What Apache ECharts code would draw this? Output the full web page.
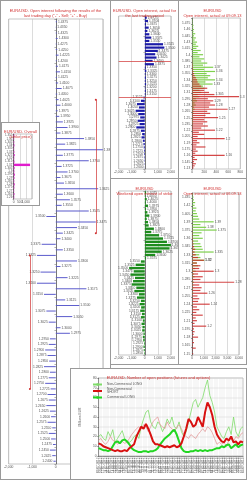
<!DOCTYPE html>
<html>
<head>
<meta charset="utf-8">
<script src="https://cdn.jsdelivr.net/npm/echarts@6/dist/echarts.min.js"></script>
<style>
html, body { margin: 0; padding: 0; background: #fff; }
.p { position: absolute; box-sizing: border-box; border: 1px solid #9a9a9a; background: #fff; }
</style>
</head>
<body>
<div class="p" id="pA" style="left:0;top:0;width:111px;height:480px"></div>
<div class="p" id="pB" style="left:110px;top:0;width:69px;height:179px"></div>
<div class="p" id="pC" style="left:178px;top:0;width:69px;height:179px"></div>
<div class="p" id="pD" style="left:110px;top:178px;width:69px;height:187px"></div>
<div class="p" id="pE" style="left:178px;top:178px;width:69px;height:187px"></div>
<div class="p" id="pG" style="left:1px;top:122px;width:39px;height:84px"></div>
<div class="p" id="pF" style="left:70px;top:368px;width:177px;height:112px"></div>
<script>
// ---- data ----
// left panel: open interest after last trading day (strike, bottom -> top)
const A_STRIKES = ['1.2400','1.2425','1.2450','1.2475','1.2500','1.2525','1.2550','1.2575','1.2600','1.2625',
  '1.2650','1.2675','1.2700','1.2725','1.2750','1.2775','1.2800','1.2825','1.2850','1.2875',
  '1.2900','1.2925','1.2950','1.2975','1.3000','1.3025','1.3050','1.3075','1.3100','1.3125',
  '1.3150','1.3175','1.3200','1.3225','1.3250','1.3275','1.3300','1.3325','1.3350','1.3375',
  '1.3400','1.3425','1.3450','1.3475','1.3500','1.3525','1.3550','1.3575','1.3600','1.3625',
  '1.3650','1.3675','1.3700','1.3725','1.3750','1.3775','1.3800','1.3825','1.3850','1.3875',
  '1.3900','1.3925','1.3950','1.3975','1.4000','1.4025','1.4050','1.4075','1.4100','1.4125',
  '1.4150','1.4175','1.4200','1.4225','1.4250','1.4275','1.4300','1.4325','1.4350','1.4375'];
const A_VALUES = [-100, -150, -250, -120, -200, -300, -150, -350, -200, -250,
  -400, -300, -350, -220, -450, -300, -250, -500, -280, -350, -450, -300,
  -250, 600, 200, -300, 700, -400, 1000, 400, -500, 1300, -800, 500, -650, 200, 900, -800, 300, -600, 200,
  300, 900, 1700, -400, 1400, 250, 600, 300, 1800, 350, 200, 500, 250, 1400, 300, 2000, 400, 1200, 200, 500, 300,
  150, 80, 200, 120, 60, 250, 100, 50, 180, 90, 40, 120, 60, 30, 80, 40, 20, 50];

// middle top: open interest for the last trading period
const B_STRIKES = ['1.2600','1.2625','1.2650','1.2675','1.2700','1.2725','1.2750','1.2775','1.2800','1.2825',
  '1.2850','1.2875','1.2900','1.2925','1.2950','1.2975','1.3000','1.3025','1.3050','1.3075',
  '1.3100','1.3125','1.3150','1.3175','1.3200','1.3225','1.3250','1.3275','1.3300','1.3325',
  '1.3350','1.3375','1.3400','1.3425','1.3450','1.3475','1.3500','1.3525','1.3550','1.3575',
  '1.3600','1.3625','1.3650','1.3675','1.3700','1.3725'];
const B_VALUES = [-10, -20, -30, -40, -50, -60, -80, -100, -150, -250, -200, -300, -650, -400, -550, -350,
  -500, -700, -450, -600, -300, -100,
  60, 80, 50, 100, 70, 90, 60, 120, 80,
  700, 600, 900, 800, 1000, 1500, 1400, 350, 500, 350, 200, 300, 100, 250, 150];

// right top: open interest actual at 09.09.13
const C_STRIKES = ['1.13','1.135','1.14','1.145','1.15','1.155','1.16','1.165','1.17','1.175',
  '1.18','1.185','1.19','1.195','1.2','1.205','1.21','1.215','1.22','1.225',
  '1.23','1.235','1.24','1.245','1.25','1.255','1.26','1.265','1.27','1.275',
  '1.28','1.285','1.29','1.295','1.3','1.305','1.31','1.315','1.32','1.325',
  '1.33','1.335','1.34','1.345','1.35','1.355','1.36','1.365','1.37','1.375',
  '1.38','1.385','1.39','1.395','1.4','1.405','1.41','1.415','1.42','1.425',
  '1.43','1.435','1.44','1.445','1.45','1.455','1.46','1.465','1.47','1.475','1.48','1.485'];
const C_PUTS = [20, 40, 60, 30, 80, 40, 540, 50, 90, 60,
  220, 70, 120, 80, 540, 90, 200, 110, 380, 150,
  260, 180, 250, 200, 430, 220, 300, 250, 590, 280,
  380, 300, 350, 260, 780, 370, 280, 200, 250, 150,
  120, 90, 80, 60, 40, 30, 20, 15, 10, 10,
  5, 5, 0, 5, 0, 0, 0, 0, 0, 0, 0, 0, 0, 0, 0, 0, 0, 0, 0, 0, 0, 0];
const C_CALLS = [0, 0, 0, 0, 0, 0, 0, 0, 0, 0,
  0, 0, 0, 0, 5, 0, 5, 0, 10, 0,
  10, 5, 15, 10, 20, 15, 30, 20, 40, 30,
  60, 40, 80, 60, 120, 90, 150, 120, 200, 180,
  340, 220, 380, 260, 300, 240, 380, 200, 350, 180,
  250, 150, 200, 120, 180, 90, 140, 70, 100, 60,
  80, 40, 60, 30, 50, 20, 30, 15, 20, 10, 10, 5];

// middle second: weekend open interest
const D_STRIKES = ['1.2850','1.2875','1.2900','1.2925','1.2950','1.2975','1.3000','1.3025','1.3050','1.3075',
  '1.3100','1.3125','1.3150','1.3175','1.3200','1.3225','1.3250','1.3275','1.3300','1.3325',
  '1.3350','1.3375','1.3400','1.3425','1.3450','1.3475','1.3500','1.3525','1.3550','1.3575',
  '1.3600','1.3625','1.3650','1.3675','1.3700','1.3725','1.3750','1.3775','1.3800','1.3825',
  '1.3850','1.3875','1.3900','1.3925','1.3950','1.3975','1.4000','1.4025','1.4050','1.4075'];
const D_VALUES = [-50, -80, -100, -60, -120, -150, -100, -200, -180, -250, -150, -300, -220, -350, -280, -400, -300,
  -600, -450, -800, -650, -1000, -900, -750, -1100, -850, -1200, -700, -300,
  100,
  800, 1300, 1900, 2000, 1700, 1400, 1100, 500, 700, 300,
  250, 150, 350, 200, 100, 250, 80, 150, 50, 100];

// right second: open interest actual at 06.09.13
const E_STRIKES = ['1.15','1.155','1.16','1.165','1.17','1.175','1.18','1.185','1.19','1.195',
  '1.2','1.205','1.21','1.215','1.22','1.225','1.23','1.235','1.24','1.245',
  '1.25','1.255','1.26','1.265','1.27','1.275','1.28','1.285','1.29','1.295',
  '1.3','1.305','1.31','1.315','1.32','1.325','1.33','1.335','1.34','1.345',
  '1.35','1.355','1.36','1.365','1.37','1.375','1.38','1.385','1.39','1.395',
  '1.4','1.405','1.41','1.415','1.42','1.425','1.43','1.435','1.44'];
const E_PUTS = [80, 40, 300, 60, 150, 80, 500, 120, 200, 150,
  1200, 200, 400, 300, 900, 350, 600, 400, 1500, 500,
  600, 450, 1300, 700, 800, 600, 3600, 700, 900, 500,
  1840, 600, 700, 400, 1000, 500, 300, 200, 250, 150,
  100, 80, 60, 50, 40, 30, 20, 15, 10, 10,
  5, 5, 0, 0, 0, 0, 0, 0, 0];
const E_CALLS = [0, 0, 0, 0, 0, 0, 0, 0, 0, 0,
  0, 0, 10, 0, 20, 0, 30, 10, 40, 20,
  50, 30, 80, 60, 100, 80, 150, 100, 200, 150,
  300, 250, 500, 400, 1040, 700, 600, 1840, 900, 800,
  700, 500, 900, 600, 800, 2100, 1200, 700, 1840, 600,
  500, 400, 300, 350, 200, 250, 150, 100, 80];

// inset: overall
const G_STRIKES = ['1.26','1.265','1.27','1.275','1.28','1.285','1.29','1.295','1.3','1.305',
  '1.31','1.315','1.32','1.325','1.33','1.335','1.34','1.345','1.35','1.355'];
const G_VALUES = [40, 60, 30, 50, 80, 40, 60, 90, 50, 70, 1350, 60, 40, 80, 50, 30, 60, 40, 30, 50];

// bottom: number of open positions (weekly)
const DATES = ['03.07.2012','10.07.2012','17.07.2012','24.07.2012','31.07.2012','07.08.2012','14.08.2012','21.08.2012','28.08.2012',
  '04.09.2012','11.09.2012','18.09.2012','25.09.2012','02.10.2012','09.10.2012','16.10.2012','23.10.2012','30.10.2012',
  '06.11.2012','13.11.2012','20.11.2012','27.11.2012','04.12.2012','11.12.2012','18.12.2012','25.12.2012',
  '01.01.2013','08.01.2013','15.01.2013','22.01.2013','29.01.2013','05.02.2013','12.02.2013','19.02.2013','26.02.2013',
  '05.03.2013','12.03.2013','19.03.2013','26.03.2013','02.04.2013','09.04.2013','16.04.2013','23.04.2013','30.04.2013',
  '07.05.2013','14.05.2013','21.05.2013','28.05.2013','04.06.2013','11.06.2013','18.06.2013','25.06.2013',
  '02.07.2013','09.07.2013','16.07.2013','23.07.2013','30.07.2013','06.08.2013','13.08.2013','20.08.2013','27.08.2013','03.09.2013'];
const NC_LONG = [20, 22, 18, 16, 25, 20, 27, 14, 18, 22, 26, 18, 15, 14, 16, 20, 22, 18, 30, 38, 45, 47, 35,
  30, 28, 35, 32, 25, 30, 38, 33, 40, 30, 28, 35, 25, 20, 25, 35, 45, 55, 58, 50, 55, 60, 70, 78,
  62, 55, 45, 30, 25, 20, 18, 25, 30, 22, 40, 25, 20, 28, 30];
const NC_SHORT = [13, 12, 10, 9, 8, 7, 6, 5, 6, 5, 5, 6, 5, 8, 10, 12, 20, 25, 30, 28, 33, 28, 22,
  15, 12, 12, 11, 10, 9, 10, 9, 10, 11, 9, 10, 13, 20, 28, 38, 35, 30, 32, 40, 35, 30, 45, 55,
  50, 42, 30, 22, 18, 15, 14, 18, 16, 20, 14, 15, 12, 15, 14];
const C_SHORT = [16, 18, 14, 12, 15, 20, 16, 15, 12, 14, 15, 13, 14, 18, 22, 25, 28, 30, 28, 32, 30, 25, 30,
  35, 38, 40, 32, 30, 28, 35, 30, 28, 25, 30, 32, 28, 22, 20, 18, 22, 20, 18, 22, 25, 28, 25, 30,
  28, 24, 18, 12, 14, 12, 14, 10, 16, 18, 15, 20, 18, 22, 24];
const C_LONG = [8, 7, 6, 6, 5, 6, 10, 14, 15, 13, 16, 17, 15, 12, 8, 6, 5, 4, 4, 5, 5, 4, 5,
  5, 6, 8, 12, 15, 18, 20, 22, 25, 27, 22, 15, 8, 5, 4, 4, 5, 5, 6, 5, 6, 5, 6, 5,
  6, 6, 7, 8, 8, 10, 9, 11, 12, 8, 10, 12, 9, 11, 12];

// ---- helpers ----
const FONT = 'Liberation Sans';
const RED = '#d03030';
const TXT = { fontSize: 3.3, color: '#555', fontFamily: FONT };

function title (text, top) {
    return {
        text: text,
        left: 'center',
        top: top,
        textStyle: { color: RED, fontSize: 4, fontWeight: 'normal', fontFamily: FONT, lineHeight: 5 }
    }
}

// bars around a centre axis (sell to the left, buy to the right)
function centerBars (cats, vals, color, barW, grid) {
    return {
        animation: false,
        grid: Object.assign({ show: true, borderColor: '#888', borderWidth: 0.5 }, grid),
        xAxis: {
            type: 'value', min: -2000, max: 2000, interval: 1000,
            axisLabel: Object.assign({ margin: 2 }, TXT),
            axisLine: { show: false },
            axisTick: { show: false },
            splitLine: { show: true, lineStyle: { color: '#b8b8b8', width: 0.5 } }
        },
        yAxis: {
            type: 'category', data: cats,
            axisLine: { onZero: true, lineStyle: { color: '#333', width: 0.6 } },
            axisTick: { show: true, length: 1.2, lineStyle: { width: 0.5 } },
            axisLabel: { show: false }
        },
        series: [{
            type: 'bar',
            barWidth: barW,
            itemStyle: { color: color },
            label: Object.assign({ show: true, formatter: '{b}', distance: 1 }, TXT),
            data: vals.map(v => ({ value: v, label: { position: v < 0 ? 'left' : 'right' } }))
        }]
    }
}

// calls/puts from a zero axis
function sideBars (cats, calls, puts, max, interval, labelMin, grid, labInt) {
    const lab = Object.assign({
        show: true, position: 'right', distance: 1,
        formatter: p => (p.value >= labelMin ? p.name : '')
    }, TXT);
    return {
        animation: false,
        grid: Object.assign({ show: true, borderColor: '#888', borderWidth: 0.5 }, grid),
        xAxis: {
            type: 'value', min: 0, max: max, interval: interval,
            axisLabel: Object.assign({ margin: 2 }, TXT),
            axisLine: { show: false },
            axisTick: { show: false },
            splitLine: { show: true, lineStyle: { color: '#b8b8b8', width: 0.5 } }
        },
        yAxis: {
            type: 'category', data: cats,
            axisLine: { show: true, lineStyle: { color: '#333', width: 0.6 } },
            axisTick: { show: true, length: 1.2, interval: labInt, lineStyle: { width: 0.5 } },
            axisLabel: Object.assign({ interval: labInt, margin: 2 }, TXT)
        },
        series: [
            { type: 'bar', name: 'Call', data: calls, barWidth: 1.2, barGap: '-100%', itemStyle: { color: '#7fd04e' }, label: lab },
            { type: 'bar', name: 'Put', data: puts, barWidth: 1.2, itemStyle: { color: 'rgba(205,40,40,0.85)' }, label: lab }
        ]
    }
}

function mk (id, option) {
    const c = echarts.init(document.getElementById(id), null, { renderer: 'canvas' });
    c.setOption(option);
}

// ---- panels ----
const optA = centerBars(A_STRIKES, A_VALUES, '#5a5acc', 0.9, { left: 7, right: 5, top: 18, bottom: 15 });
optA.title = title('EUR/USD. Open interest following the results of the\nlast trading day ("-" - Sell; "+" - Buy)', 2);
optA.series[0].markLine = {
    silent: true, symbol: ['circle', 'circle'], symbolSize: 2,
    label: { show: false },
    lineStyle: { color: RED, width: 0.7, type: 'solid' },
    data: [
        [{ coord: [1700, A_STRIKES[65]] }, { coord: [1700, A_STRIKES[41]] }],
        [{ coord: [-1100, A_STRIKES[37]] }, { coord: [-1100, A_STRIKES[13]] }]
    ]
};
mk('pA', optA);

const optB = centerBars(B_STRIKES, B_VALUES, '#1c1ca8', 2.2, { left: 7, right: 4, top: 15, bottom: 9 });
optB.title = title('EUR/USD. Open interest, actual for\nthe last trading period', 2);
optB.series[0].markLine = {
    silent: true, symbol: 'none', label: { show: false },
    lineStyle: { color: RED, width: 0.7, type: 'solid' },
    data: [{ yAxis: 21 }, { yAxis: 32 }]
};
mk('pB', optB);

const optC = sideBars(C_STRIKES, C_CALLS, C_PUTS, 800, 200, 330, { left: 12, right: 2, top: 17, bottom: 9 }, 2);
optC.title = title('EUR/USD\nOpen interest, actual at 09.09.13', 2);
mk('pC', optC);

const optD = centerBars(D_STRIKES, D_VALUES, '#1e8c1e', 2.4, { left: 7, right: 4, top: 12, bottom: 9 });
optD.title = title('EUR/USD\nWeekend open interest of strike', 2);
mk('pD', optD);

const optE = sideBars(E_STRIKES, E_CALLS, E_PUTS, 4000, 1000, 1000, { left: 13, right: 4, top: 14, bottom: 9 }, 2);
optE.title = title('EUR/USD\nOpen interest, actual at 06.09.13', 2);
mk('pE', optE);

mk('pG', {
    animation: false,
    title: title('EUR/USD. Overall\n(strike price)', 1),
    grid: { show: true, borderColor: '#888', borderWidth: 0.5, left: 9, right: 2, top: 11, bottom: 6 },
    xAxis: {
        type: 'value', min: 0, max: 1500, interval: 500,
        axisLabel: Object.assign({ margin: 1.5 }, TXT),
        axisLine: { show: false }, axisTick: { show: false },
        splitLine: { show: true, lineStyle: { color: '#b8b8b8', width: 0.5 } }
    },
    yAxis: {
        type: 'category', data: G_STRIKES,
        axisLine: { show: true, lineStyle: { color: '#333', width: 0.6 } },
        axisTick: { show: true, length: 1, interval: 0, lineStyle: { width: 0.5 } },
        axisLabel: Object.assign({ interval: 0, margin: 1.5 }, TXT, { fontSize: 2.9 })
    },
    series: [{ type: 'bar', data: G_VALUES, barWidth: 2.4, itemStyle: { color: '#e01ccc' } }]
});

mk('pF', {
    animation: false,
    title: title('EUR/USD. Number of open positions (futures and options)', 1),
    legend: {
        data: ['Non-Commercial LONG', 'Non-Commercial\nSHORT', 'Commercial LONG'],
        orient: 'vertical', left: 16, top: 9, itemGap: 2, itemWidth: 9, itemHeight: 3,
        textStyle: Object.assign({ padding: 0 }, TXT)
    },
    grid: { show: true, borderColor: '#888', borderWidth: 0.5, left: 14, right: 3, top: 9, bottom: 23 },
    xAxis: {
        type: 'category', data: DATES, boundaryGap: false,
        axisLabel: Object.assign({ rotate: 90, interval: 0, margin: 1.5 }, TXT, { fontSize: 3.1 }),
        axisTick: { show: true, interval: 0, length: 1, lineStyle: { width: 0.4 } },
        axisLine: { lineStyle: { color: '#555', width: 0.5 } },
        splitLine: { show: true, interval: 0, lineStyle: { color: '#d4d4d4', width: 0.4 } }
    },
    yAxis: {
        type: 'value', min: 0, max: 80, interval: 10,
        name: 'Millions EUR', nameLocation: 'middle', nameGap: 7,
        nameTextStyle: TXT,
        axisLabel: Object.assign({ margin: 2 }, TXT),
        axisLine: { show: true, lineStyle: { color: '#555', width: 0.5 } },
        axisTick: { show: true, length: 1 },
        splitLine: { lineStyle: { color: '#c8c8c8', width: 0.4 } }
    },
    series: [
        { name: 'Non-Commercial LONG', type: 'line', data: NC_LONG, symbol: 'none', lineStyle: { color: '#7fdc6a', width: 0.8 }, itemStyle: { color: '#7fdc6a' } },
        { name: 'Commercial SHORT', type: 'line', data: C_SHORT, symbol: 'none', lineStyle: { color: '#e39a9a', width: 0.8 }, itemStyle: { color: '#e39a9a' } },
        { name: 'Commercial LONG', type: 'line', data: C_LONG, symbol: 'none', lineStyle: { color: '#22d622', width: 2 }, itemStyle: { color: '#22d622' } },
        { name: 'Non-Commercial\nSHORT', type: 'line', data: NC_SHORT, symbol: 'none', lineStyle: { color: '#d81010', width: 2 }, itemStyle: { color: '#d81010' } }
    ]
});
</script>
</body>
</html>
